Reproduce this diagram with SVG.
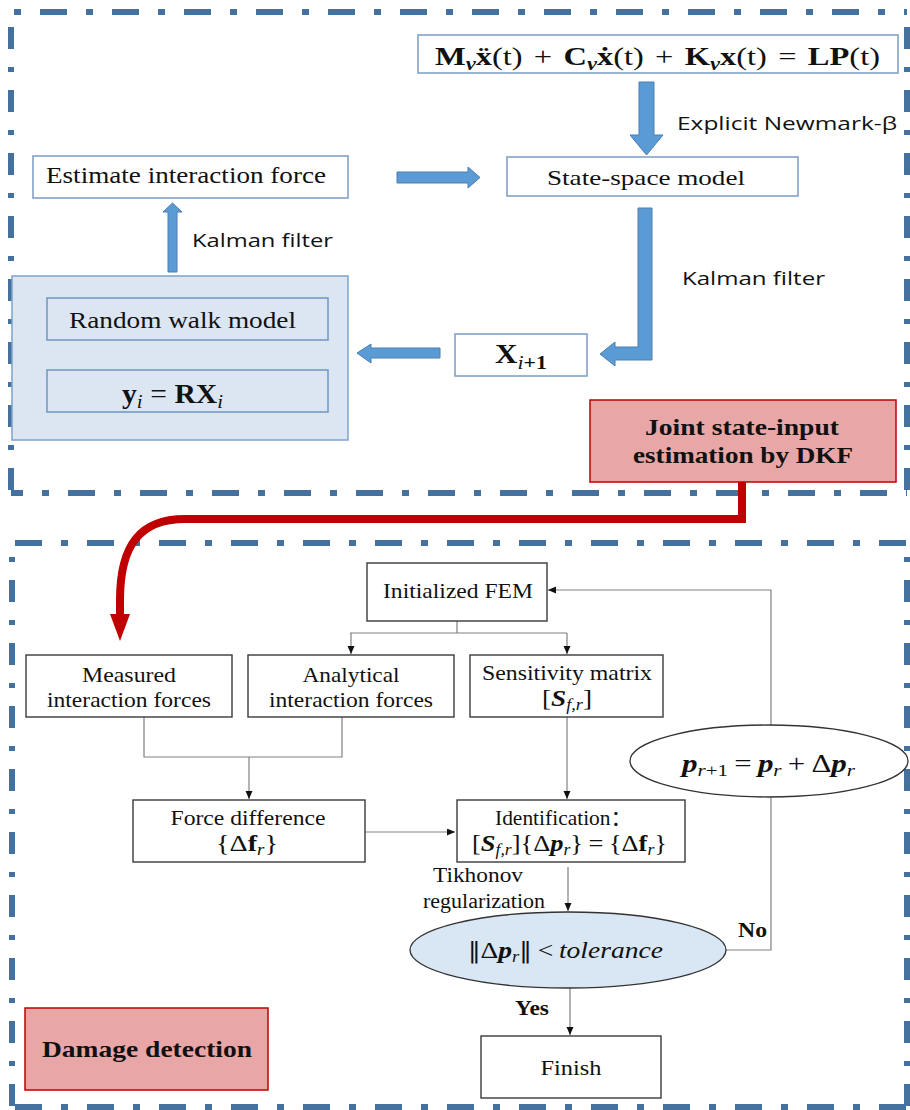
<svg xmlns="http://www.w3.org/2000/svg" width="910" height="1110" viewBox="0 0 910 1110">
<style>
.fr{fill:none;stroke:#44719e;stroke-width:6}
.frh{stroke-dasharray:27 19 7 19}
.frv{stroke-dasharray:22 18 5 18}
.tbox{fill:#fff;stroke:#7b9cc4;stroke-width:1.5}
.barrow{fill:#5b9bd5;stroke:#4a7eb0;stroke-width:1}
.bbox{fill:#fff;stroke:#3a3a3a;stroke-width:1.4}
.conn{fill:none;stroke:#808080;stroke-width:1.2}
.ser{font-family:"Liberation Serif","Noto Sans CJK SC",serif;fill:#111}
.sans{font-family:"Open Sans","Liberation Sans",sans-serif;fill:#111}
.b{font-weight:bold}
.i{font-style:italic}
.dv{font-family:"DejaVu Serif",serif}
.red{fill:#e8a6a6;stroke:#c00000;stroke-width:1.5}
</style>
<defs>
<marker id="ah" markerWidth="9" markerHeight="8" refX="8" refY="3.5" orient="auto" markerUnits="userSpaceOnUse">
<path d="M0,0 L8,3.5 L0,7 z" fill="#111"/>
</marker>
</defs>

<g id="frames">
<line class="fr frh" x1="11" y1="12" x2="907" y2="12" stroke-dashoffset="43"/>
<line class="fr frh" x1="11" y1="493" x2="907" y2="493" stroke-dashoffset="15"/>
<line class="fr frv" x1="11" y1="12" x2="11" y2="493" stroke-dashoffset="48"/>
<line class="fr frv" x1="907" y1="12" x2="907" y2="493" stroke-dashoffset="48"/>
<line class="fr frh" x1="12" y1="543" x2="907" y2="543" stroke-dashoffset="69"/>
<line class="fr frh" x1="12" y1="1107" x2="907" y2="1107" stroke-dashoffset="69"/>
<line class="fr frv" x1="12" y1="543" x2="12" y2="1107" stroke-dashoffset="26"/>
<line class="fr frv" x1="907" y1="543" x2="907" y2="1107" stroke-dashoffset="26"/>
</g>

<g id="block-arrows">
<polygon class="barrow" points="639,82 654,82 654,135 663,135 646.5,155 630,135 639,135"/>
<polygon class="barrow" points="397,172 468,172 468,167 480,177.5 468,188 468,183 397,183"/>
<polygon class="barrow" points="638,208 652,208 652,360 615,360 615,366 600,354 615,342 615,347 638,347"/>
<polygon class="barrow" points="440,348 440,358 371,358 371,363 357,353 371,344 371,348"/>
<polygon class="barrow" points="168,272 177,272 177,212 182,212 172.5,203 163,212 168,212"/>
<text class="sans" x="677" y="130" font-size="19" textLength="220" lengthAdjust="spacingAndGlyphs">Explicit Newmark-β</text>
<text class="sans" x="682" y="285" font-size="19" textLength="143" lengthAdjust="spacingAndGlyphs">Kalman filter</text>
<text class="sans" x="192" y="247" font-size="19" textLength="141" lengthAdjust="spacingAndGlyphs">Kalman filter</text>
</g>

<g id="equation">
<rect class="tbox" x="418" y="35" width="480" height="38"/>
<text class="ser" x="435" y="65" font-size="26" textLength="445" lengthAdjust="spacingAndGlyphs"><tspan class="b">M</tspan><tspan class="b i" font-size="18" dy="5">v</tspan><tspan class="b" dy="-5">x&#x308;</tspan>(t)<tspan dx="9">+</tspan><tspan class="b" dx="9">C</tspan><tspan class="b i" font-size="18" dy="5">v</tspan><tspan class="b" dy="-5">ẋ</tspan>(t)<tspan dx="9">+</tspan><tspan class="b" dx="9">K</tspan><tspan class="b i" font-size="18" dy="5">v</tspan><tspan class="b" dy="-5">x</tspan>(t)<tspan dx="9">=</tspan><tspan class="b" dx="9">LP</tspan>(t)</text>
</g>

<g id="state-space">
<rect class="tbox" x="507" y="157" width="291" height="39"/>
<text class="ser" x="547" y="185" font-size="22" textLength="198" lengthAdjust="spacingAndGlyphs">State-space model</text>
</g>

<g id="estimate">
<rect class="tbox" x="33" y="156" width="315" height="42"/>
<text class="ser" x="46" y="183" font-size="23" textLength="280" lengthAdjust="spacingAndGlyphs">Estimate interaction force</text>
</g>

<g id="xnext">
<rect class="tbox" x="455" y="334" width="132" height="42"/>
<text class="ser" x="495" y="363" font-size="27" textLength="52" lengthAdjust="spacingAndGlyphs"><tspan class="b">X</tspan><tspan font-size="19" dy="6"><tspan class="i">i</tspan><tspan class="b">+1</tspan></tspan></text>
</g>

<g id="random-walk-group">
<rect x="12" y="276" width="336" height="164" fill="#dce6f2" stroke="#7ea3cc" stroke-width="1.5"/>
<rect x="47" y="298" width="281" height="42" fill="#dce6f2" stroke="#6f95c4" stroke-width="1.5"/>
<text class="ser" x="69" y="328" font-size="23" textLength="227" lengthAdjust="spacingAndGlyphs">Random walk model</text>
<rect x="47" y="370" width="281" height="42" fill="#dce6f2" stroke="#6f95c4" stroke-width="1.5"/>
<text class="ser" x="122" y="403" font-size="27" textLength="101" lengthAdjust="spacingAndGlyphs"><tspan class="b">y</tspan><tspan class="i" font-size="19" dy="5">i</tspan><tspan dy="-5" dx="7">=</tspan><tspan class="b" dx="7">RX</tspan><tspan class="i" font-size="19" dy="5">i</tspan></text>
</g>

<g id="dkf">
<rect class="red" x="590" y="400" width="306" height="82"/>
<text class="ser b" x="645" y="435" font-size="23" textLength="194" lengthAdjust="spacingAndGlyphs">Joint state-input</text>
<text class="ser b" x="633" y="463" font-size="23" textLength="220" lengthAdjust="spacingAndGlyphs">estimation by DKF</text>
</g>

<g id="red-link">
<path d="M742,482 V519 H185 C140,519 120,545 120,600 V616" fill="none" stroke="#c00000" stroke-width="8"/>
<polygon points="110,614 130,614 120,641" fill="#c00000"/>
</g>

<g id="connectors">
<path class="conn" d="M457,621 V633 M350,633 H567"/>
<path class="conn" d="M351,633 V654" marker-end="url(#ah)"/>
<path class="conn" d="M567,633 V654" marker-end="url(#ah)"/>
<path class="conn" d="M144,717 V757 H342 V717"/>
<path class="conn" d="M249,757 V799" marker-end="url(#ah)"/>
<path class="conn" d="M365,832 H455" marker-end="url(#ah)"/>
<path class="conn" d="M567,717 V799" marker-end="url(#ah)"/>
<path class="conn" d="M568,867 V911" marker-end="url(#ah)"/>
<path class="conn" d="M570,988 V1035" marker-end="url(#ah)"/>
<path class="conn" d="M726,950 H771 V797"/>
<path class="conn" d="M771,725 V590 H548" marker-end="url(#ah)"/>
<text class="ser" x="478" y="882" font-size="20" text-anchor="middle" textLength="90" lengthAdjust="spacingAndGlyphs">Tikhonov</text>
<text class="ser" x="484" y="908" font-size="20" text-anchor="middle" textLength="122" lengthAdjust="spacingAndGlyphs">regularization</text>
<text class="ser b" x="738" y="937" font-size="21" textLength="29" lengthAdjust="spacingAndGlyphs">No</text>
<text class="ser b" x="515" y="1015" font-size="21" textLength="34" lengthAdjust="spacingAndGlyphs">Yes</text>
</g>

<g id="init-fem">
<rect class="bbox" x="367" y="563" width="180" height="58"/>
<text class="ser" x="383" y="598" font-size="21" textLength="150" lengthAdjust="spacingAndGlyphs">Initialized FEM</text>
</g>

<g id="measured">
<rect class="bbox" x="26" y="655" width="206" height="62"/>
<text class="ser" x="129" y="682" font-size="21" text-anchor="middle" textLength="94" lengthAdjust="spacingAndGlyphs">Measured</text>
<text class="ser" x="129" y="707" font-size="21" text-anchor="middle" textLength="164" lengthAdjust="spacingAndGlyphs">interaction forces</text>
</g>

<g id="analytical">
<rect class="bbox" x="248" y="655" width="206" height="62"/>
<text class="ser" x="351" y="682" font-size="21" text-anchor="middle" textLength="97" lengthAdjust="spacingAndGlyphs">Analytical</text>
<text class="ser" x="351" y="707" font-size="21" text-anchor="middle" textLength="164" lengthAdjust="spacingAndGlyphs">interaction forces</text>
</g>

<g id="sensitivity">
<rect class="bbox" x="470" y="655" width="193" height="62"/>
<text class="ser" x="567" y="680" font-size="21" text-anchor="middle" textLength="170" lengthAdjust="spacingAndGlyphs">Sensitivity matrix</text>
<text class="ser" x="542" y="706" font-size="24" textLength="50" lengthAdjust="spacingAndGlyphs">[<tspan class="b i">S</tspan><tspan class="i" font-size="16" dy="4">f,r</tspan><tspan dy="-4">]</tspan></text>
</g>

<g id="force-diff">
<rect class="bbox" x="133" y="800" width="232" height="62"/>
<text class="ser" x="248" y="825" font-size="21" text-anchor="middle" textLength="155" lengthAdjust="spacingAndGlyphs">Force difference</text>
<text class="ser" x="216" y="851" font-size="24" textLength="62" lengthAdjust="spacingAndGlyphs">{Δ<tspan class="b">f</tspan><tspan class="i" font-size="16" dy="4">r</tspan><tspan dy="-4">}</tspan></text>
</g>

<g id="identification">
<rect class="bbox" x="457" y="800" width="228" height="62"/>
<text class="ser" x="495" y="825" font-size="21" textLength="137" lengthAdjust="spacingAndGlyphs">Identification：</text>
<text class="ser" x="472" y="851" font-size="24" textLength="195" lengthAdjust="spacingAndGlyphs">[<tspan class="b i">S</tspan><tspan class="i" font-size="16" dy="4">f,r</tspan><tspan dy="-4">]{Δ</tspan><tspan class="b i">p</tspan><tspan class="i" font-size="16" dy="4">r</tspan><tspan dy="-4">}</tspan><tspan dx="5">=</tspan><tspan dx="5">{Δ</tspan><tspan class="b">f</tspan><tspan class="i" font-size="16" dy="4">r</tspan><tspan dy="-4">}</tspan></text>
</g>

<g id="update">
<ellipse cx="769" cy="761" rx="139" ry="36" fill="#fff" stroke="#333" stroke-width="1.3"/>
<text class="ser" x="682" y="772" font-size="25" textLength="173" lengthAdjust="spacingAndGlyphs"><tspan class="b i">p</tspan><tspan font-size="17" dy="4"><tspan class="i">r</tspan>+1</tspan><tspan dy="-4" dx="5">=</tspan><tspan class="b i" dx="5">p</tspan><tspan class="i" font-size="17" dy="4">r</tspan><tspan dy="-4" dx="5">+</tspan><tspan dx="5">Δ</tspan><tspan class="b i">p</tspan><tspan class="i" font-size="17" dy="4">r</tspan></text>
</g>

<g id="tolerance">
<ellipse cx="568" cy="950" rx="158" ry="38" fill="#d9e7f5" stroke="#333" stroke-width="1.3"/>
<text class="ser" x="468" y="958" font-size="24" textLength="195" lengthAdjust="spacingAndGlyphs"><tspan class="dv" font-size="22">‖</tspan>Δ<tspan class="b i">p</tspan><tspan class="i" font-size="16" dy="4">r</tspan><tspan class="dv" font-size="22" dy="-4">‖</tspan><tspan dx="5">&lt;</tspan><tspan class="i" dx="5">tolerance</tspan></text>
</g>

<g id="finish">
<rect class="bbox" x="481" y="1036" width="180" height="62"/>
<text class="ser" x="571" y="1075" font-size="21" text-anchor="middle" textLength="61" lengthAdjust="spacingAndGlyphs">Finish</text>
</g>

<g id="damage">
<rect class="red" x="25" y="1008" width="243" height="82"/>
<text class="ser b" x="42" y="1057" font-size="23" textLength="210" lengthAdjust="spacingAndGlyphs">Damage detection</text>
</g>
</svg>
